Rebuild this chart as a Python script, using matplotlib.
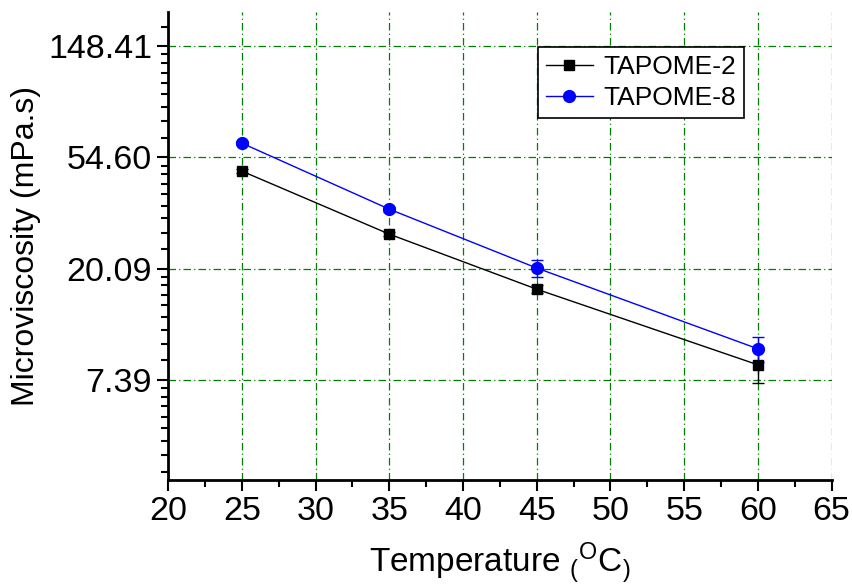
import numpy as np
import matplotlib
matplotlib.use("Agg")
import matplotlib.pyplot as plt
from matplotlib.ticker import FixedLocator, NullFormatter

plt.rcParams['font.family'] = ['Liberation Sans', 'DejaVu Sans']
plt.rcParams['mathtext.default'] = 'regular'

# Datos
temperatura = [25, 35, 45, 60]
tapome2 = [48.3, 27.4, 16.7, 8.46]
tapome2_err = [0.8, 0.5, 0.6, 1.25]
tapome8 = [62.1, 34.3, 20.2, 9.77]
tapome8_err = [1.0, 0.8, 1.6, 1.13]

x_ticks = [20, 25, 30, 35, 40, 45, 50, 55, 60, 65]
y_ticks = [np.e ** 2, np.e ** 3, np.e ** 4, np.e ** 5]
y_tick_labels = ['7.39', '20.09', '54.60', '148.41']

fig = plt.figure(figsize=(8.53, 5.85), dpi=100)
ax = fig.add_axes([0.197, 0.1795, 0.778, 0.7995])

ax.set_yscale('log')

eb2 = ax.errorbar(temperatura, tapome2, yerr=tapome2_err, color='black', marker='s',
                  markersize=7.5, linewidth=1.0, elinewidth=1.0, capsize=4, zorder=3)
eb8 = ax.errorbar(temperatura, tapome8, yerr=tapome8_err, color='blue', marker='o',
                  markersize=8.5, linewidth=1.0, elinewidth=1.0, capsize=4, zorder=3)

ax.set_xlim(20, 65)
ax.set_ylim(np.exp(1.10), np.exp(5.305))

ax.set_xticks(x_ticks)
ax.xaxis.set_minor_locator(FixedLocator(np.arange(22.5, 65, 5)))
ax.set_yticks(y_ticks)
ax.set_yticklabels(y_tick_labels)

# menores lineales entre potencias de e (9 intervalos)
minors = []
for n in range(1, 6):
    a, b = np.e ** n, np.e ** (n + 1)
    for k in range(1, 9):
        minors.append(a + k * (b - a) / 9)
ax.yaxis.set_minor_locator(FixedLocator(minors))
ax.yaxis.set_minor_formatter(NullFormatter())

ax.tick_params(axis='both', which='major', direction='out', length=8, width=1.5, labelsize=24.5)
ax.tick_params(axis='both', which='minor', direction='out', length=5, width=1.5)

ax.spines['top'].set_visible(False)
ax.spines['right'].set_visible(False)
ax.spines['left'].set_linewidth(2)
ax.spines['bottom'].set_linewidth(2)

ax.grid(True, which='major', color='#008000', linestyle=(0, (6, 2.5, 1, 2.5)), linewidth=0.9)
ax.set_axisbelow(True)

ax.set_ylabel('Microviscosity (mPa.s)', fontsize=23, labelpad=5)
ax.set_xlabel(r'Temperature $_{(}$$^{O}$C$_{)}$', fontsize=24, labelpad=10)

leg = ax.legend([eb2[0], eb8[0]], ['TAPOME-2', 'TAPOME-8'],
                loc='upper left', bbox_to_anchor=(0.557, 0.925), borderaxespad=0,
                fontsize=19, fancybox=False, edgecolor='black', framealpha=1,
                handlelength=1.8, handletextpad=0.4, borderpad=0.3, labelspacing=0.25)
leg.get_frame().set_linewidth(1.2)

fig.savefig('out.png', dpi=100)
